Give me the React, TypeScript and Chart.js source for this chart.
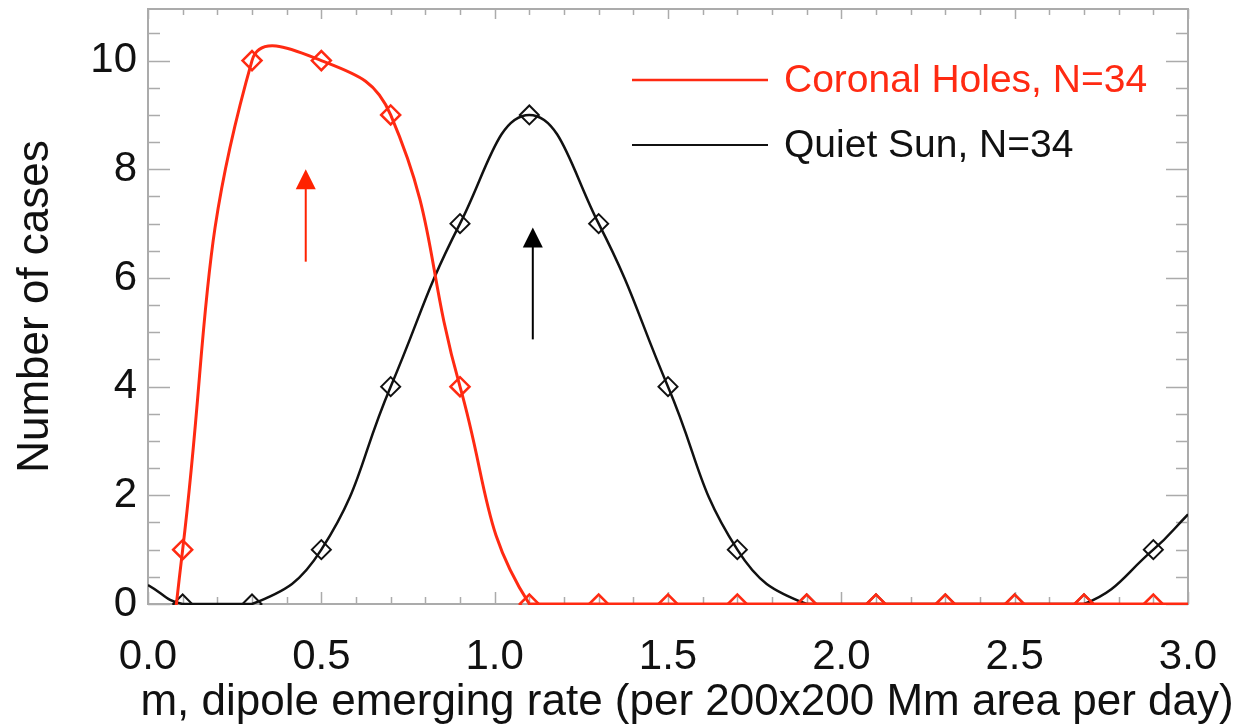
import React, { useEffect, useRef } from 'react';
import { Chart, registerables } from 'chart.js';

Chart.register(...registerables);

// ---- data ----
const binCenters = [0.1, 0.3, 0.5, 0.7, 0.9, 1.1, 1.3, 1.5, 1.7, 1.9, 2.1, 2.3, 2.5, 2.7, 2.9];
const coronalHoleCounts = [1, 10, 10, 9, 4, 0, 0, 0, 0, 0, 0, 0, 0, 0, 0];
const quietSunCounts = [0, 0, 1, 4, 7, 9, 7, 4, 1, 0, 0, 0, 0, 0, 1];
// where the smooth curves meet the plot edges (x = 0.0 and x = 3.0)
const curveEdgeX = [0.0, 3.0];
const coronalHoleCurveEdges = [-6, 0];
const quietSunCurveEdges = [0.35, 1.65];

const seriesLabels = ['Coronal Holes, N=34', 'Quiet Sun, N=34'];
const xTickValues = [0, 0.5, 1, 1.5, 2, 2.5, 3];
const xTickLabels = ['0.0', '0.5', '1.0', '1.5', '2.0', '2.5', '3.0'];
const yTickValues = [0, 2, 4, 6, 8, 10];
const yTickLabels = ['0', '2', '4', '6', '8', '10'];
const xTitle = 'm, dipole emerging rate (per 200x200 Mm area per day)';
const yTitle = 'Number of cases';

// arrows (x position, tail value, tip value)
const arrowX = [0.455, 1.11];
const arrowFrom = [6.3, 4.87];
const arrowTo = [8.0, 6.93];

const RED = '#ff2a12';
const ARROW_RED = '#ff2200';
const BLACK = '#111111';
const FRAME = '#ababab';
const FONT = "'Liberation Sans', Arial, Helvetica, sans-serif";

function curvePoints(edges: number[], counts: number[]) {
  const pts = [{ x: curveEdgeX[0], y: edges[0] }];
  binCenters.forEach((b, i) => pts.push({ x: b, y: counts[i] }));
  pts.push({ x: curveEdgeX[1], y: edges[1] });
  return pts;
}

const decorPlugin = {
  id: 'decor',
  beforeDatasetsDraw(chart: any) {
    const { ctx, chartArea: a, scales } = chart;
    const x = scales.x;
    const y = scales.y;
    ctx.save();
    ctx.strokeStyle = FRAME;
    ctx.lineWidth = 2;
    ctx.strokeRect(a.left, a.top, a.right - a.left, a.bottom - a.top);
    ctx.lineWidth = 1.5;
    ctx.beginPath();
    for (let i = 0; i <= 30; i++) {
      const px = Math.round(x.getPixelForValue(i * 0.1)) + 0.5;
      const major = i % 5 === 0;
      const len = major ? 12 : 7;
      ctx.moveTo(px, a.bottom);
      ctx.lineTo(px, a.bottom - len);
      ctx.moveTo(px, a.top);
      ctx.lineTo(px, a.top + (major ? 10 : 6));
    }
    for (let i = 0; i * 0.5 <= y.max; i++) {
      const py = Math.round(y.getPixelForValue(i * 0.5)) + 0.5;
      const major = i % 4 === 0;
      const len = major ? 22 : 12;
      ctx.moveTo(a.left, py);
      ctx.lineTo(a.left + len, py);
      ctx.moveTo(a.right, py);
      ctx.lineTo(a.right - len, py);
    }
    ctx.stroke();
    ctx.restore();
  },
  afterDatasetsDraw(chart: any) {
    const { ctx, scales } = chart;
    const x = scales.x;
    const y = scales.y;
    ctx.save();
    // arrows
    const arrowColors = [ARROW_RED, '#000000'];
    arrowX.forEach((ax, i) => {
      const px = x.getPixelForValue(ax);
      const tail = y.getPixelForValue(arrowFrom[i]);
      const tip = y.getPixelForValue(arrowTo[i]);
      ctx.strokeStyle = arrowColors[i];
      ctx.fillStyle = arrowColors[i];
      ctx.lineWidth = 2;
      ctx.beginPath();
      ctx.moveTo(px, tail);
      ctx.lineTo(px, tip + 18);
      ctx.stroke();
      ctx.beginPath();
      ctx.moveTo(px, tip);
      ctx.lineTo(px - 10, tip + 20);
      ctx.lineTo(px + 10, tip + 20);
      ctx.closePath();
      ctx.fill();
    });
    // legend inside the plot
    const legendColors = [RED, BLACK];
    const legendY = [80, 145];
    ctx.font = `39px ${FONT}`;
    ctx.textBaseline = 'middle';
    ctx.textAlign = 'left';
    seriesLabels.forEach((lab, i) => {
      ctx.strokeStyle = legendColors[i];
      ctx.lineWidth = i === 0 ? 2.5 : 2;
      ctx.beginPath();
      ctx.moveTo(632, legendY[i]);
      ctx.lineTo(768, legendY[i]);
      ctx.stroke();
      ctx.fillStyle = i === 0 ? RED : '#111';
      ctx.fillText(lab, 784, legendY[i] + 1);
    });
    // x axis title
    ctx.font = `44px ${FONT}`;
    ctx.fillStyle = '#111';
    ctx.textAlign = 'center';
    ctx.textBaseline = 'alphabetic';
    ctx.fillText(xTitle, 687, 715);
    ctx.restore();
  },
};

export default function App() {
  const canvasRef = useRef<HTMLCanvasElement | null>(null);

  useEffect(() => {
    const canvas = canvasRef.current;
    if (!canvas) return;
    const pointRadius = (ctx: any) => {
      const n = binCenters.length + 2;
      return ctx.dataIndex === 0 || ctx.dataIndex === n - 1 ? 0 : 9.5;
    };
    const chart = new Chart(canvas, {
      type: 'line',
      data: {
        datasets: [
          {
            label: seriesLabels[0],
            data: curvePoints(coronalHoleCurveEdges, coronalHoleCounts),
            borderColor: RED,
            borderWidth: 3,
            tension: 0.45,
            pointStyle: 'rectRot',
            pointRadius,
            pointBorderColor: RED,
            pointBorderWidth: 2.5,
            pointBackgroundColor: 'rgba(0,0,0,0)',
            clip: { left: 0, top: 0, right: 0, bottom: 1 },
          } as any,
          {
            label: seriesLabels[1],
            data: curvePoints(quietSunCurveEdges, quietSunCounts),
            borderColor: BLACK,
            borderWidth: 2.5,
            tension: 0.45,
            pointStyle: 'rectRot',
            pointRadius,
            pointBorderColor: BLACK,
            pointBorderWidth: 2,
            pointBackgroundColor: 'rgba(0,0,0,0)',
            clip: { left: 0, top: 0, right: 0, bottom: 1 },
          } as any,
        ],
      },
      options: {
        responsive: false,
        animation: false,
        events: [],
        layout: { padding: { top: 9, right: 61, left: 0, bottom: 0 } },
        plugins: { legend: { display: false }, tooltip: { enabled: false } },
        scales: {
          x: {
            type: 'linear',
            min: 0,
            max: 3,
            grid: { display: false, drawTicks: false },
            border: { display: false },
            afterBuildTicks: (s: any) => {
              s.ticks = xTickValues.map((v) => ({ value: v }));
            },
            afterFit: (s: any) => {
              s.height = 121;
              s.paddingLeft = 0;
              s.paddingRight = 0;
            },
            ticks: {
              autoSkip: false,
              maxRotation: 0,
              padding: 28,
              color: '#111',
              font: { family: FONT, size: 42 },
              callback: (_v: any, i: number) => xTickLabels[i],
            },
          },
          y: {
            type: 'linear',
            min: 0,
            max: 10.95,
            grid: { display: false, drawTicks: false },
            border: { display: false },
            afterBuildTicks: (s: any) => {
              s.ticks = yTickValues.map((v) => ({ value: v }));
            },
            afterFit: (s: any) => {
              s.width = 148;
              s.paddingTop = 0;
              s.paddingBottom = 0;
            },
            ticks: {
              autoSkip: false,
              padding: 11,
              color: '#111',
              font: { family: FONT, size: 42 },
              callback: (_v: any, i: number) => yTickLabels[i],
            },
            title: {
              display: true,
              text: yTitle,
              color: '#111',
              font: { family: FONT, size: 44, lineHeight: 1.0 },
              padding: { top: 14, bottom: 0 },
            },
          },
        },
      },
      plugins: [decorPlugin],
    } as any);
    return () => chart.destroy();
  }, []);

  return (
    <div style={{ position: 'fixed', left: 0, top: 0, width: 1249, height: 725, background: '#fff' }}>
      <canvas ref={canvasRef} width={1249} height={725} style={{ display: 'block' }} />
    </div>
  );
}
